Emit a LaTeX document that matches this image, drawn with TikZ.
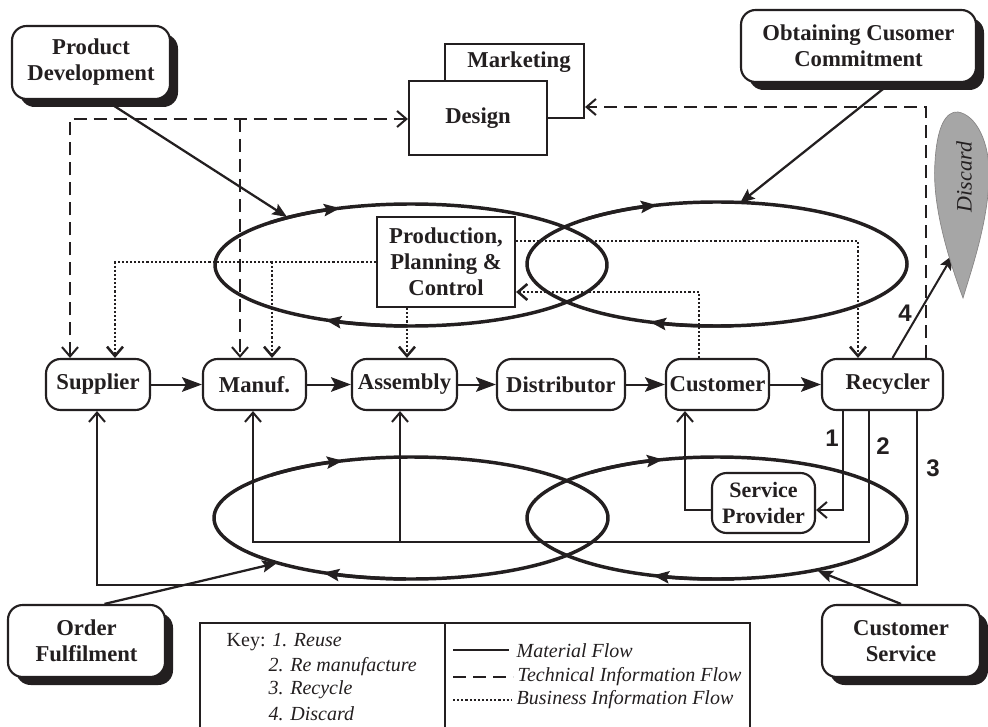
\documentclass[tikz,border=0pt]{standalone}
\usepackage{fontspec}
\setmainfont{Liberation Serif}
\newfontfamily\numfont{Liberation Sans}
\usetikzlibrary{arrows.meta,shadows,calc}
\definecolor{ink}{RGB}{35,31,32}
\definecolor{discardgray}{RGB}{166,166,166}
\pgfdeclarelayer{background}
\pgfsetlayers{background,main}
\newcommand\stagefont{\fontsize{17}{19.5}\selectfont\bfseries}
\newcommand\keyfont{\fontsize{15}{17}\selectfont}
\newcommand\markfont{\numfont\bfseries\fontsize{18}{20}\selectfont}
% arrow tip drawn on an elliptical cycle at parametric angle #5
\newcommand\cyclearrow[5]{%
  \draw[cycleline, -cyclehead] ({#1+#3*cos(#5-25)},{#2+#4*sin(#5-25)})
    arc[start angle=#5-25, end angle=#5, x radius=#3, y radius=#4];}
\tikzset{
  barb/.tip={Straight Barb[length=7pt,width=12pt]},
  rowhead/.tip={Stealth[length=15pt,width=11pt,inset=3pt]},
  linkhead/.tip={Stealth[length=11pt,width=9pt,inset=2pt]},
  cyclehead/.tip={Stealth[length=12pt,width=9pt,inset=2pt]},
}
\begin{document}
\begin{tikzpicture}[x=0.75pt,y=-0.75pt,
  every node/.style={text=ink},
  flowline/.style={draw=ink, line width=1.5pt},
  tech/.style={flowline, dash pattern=on 10pt off 5pt},
  biz/.style={draw=ink, line width=1.9pt, dash pattern=on 1.6pt off 1.5pt},
  cycleline/.style={draw=ink, line width=2.6pt},
  stage/.style={draw=ink, line width=1.6pt, rounded corners=11pt, fill=white,
    minimum height=38.25pt, inner sep=0pt, font=\stagefont, align=center},
  boxplain/.style={draw=ink, line width=1.6pt, fill=white, inner sep=0pt,
    font=\stagefont, align=center},
  procbox/.style={draw=ink, line width=1.6pt, fill=white, rounded corners=11pt,
    inner sep=0pt, align=center, font=\stagefont,
    drop shadow={shadow xshift=6pt, shadow yshift=-6pt, fill=ink, opacity=1}},
]
\useasboundingbox (0,0) rectangle (988,727);

% ---------- process boxes ----------
\node[procbox, minimum width=118.5pt, minimum height=54.75pt] (pd) at (91,62.5) {Product\\Development};
\node[procbox, minimum width=176.25pt, minimum height=54pt] (occ) at (858.5,46) {Obtaining Cusomer\\Commitment};
\node[procbox, minimum width=117.75pt, minimum height=54pt] (of) at (86.5,641) {Order\\Fulfilment};
\node[procbox, minimum width=118.5pt, minimum height=54pt] (cs) at (901,641) {Customer\\Service};

% ---------- marketing / design ----------
\node[boxplain, minimum width=104.25pt, minimum height=55.5pt] (marketing) at (514.5,81) {};
\node[font=\stagefont] (marketinglabel) at (519,62) {Marketing};
\node[boxplain, minimum width=103.5pt, minimum height=55.5pt] (design) at (478,118) {Design};

% ---------- planning ----------
\node[boxplain, minimum width=103.5pt, minimum height=67.5pt] (ppc) at (446,262) {Production,\\Planning \&\\Control};

% ---------- supply chain stages ----------
\node[stage, minimum width=78pt] (supplier) at (98,384.5) {Supplier};
\node[stage, minimum width=77.25pt] (manuf) at (254.5,384.5) {Manuf.};
\node[stage, minimum width=78.75pt] (assembly) at (404.5,384.5) {Assembly};
\node[stage, minimum width=96pt] (distributor) at (561,384.5) {Distributor};
\node[stage, minimum width=77.25pt] (customer) at (717.5,384.5) {Customer};
\node[stage, minimum width=90.75pt] (recycler) at (882.5,384.5) {\hspace*{8pt}Recycler};
\node[stage, minimum width=77.25pt, minimum height=45pt,
  font=\fontsize{16.5}{20}\selectfont\bfseries] (sp) at (763.5,503) {Service\\Provider};

% ---------- discard ----------
\fill[discardgray, draw=ink!55, line width=0.5pt]
  (963,298) .. controls (945,250) and (932,200) .. (935,162)
  .. controls (937,126) and (946,111) .. (958,112)
  .. controls (976,115) and (990,142) .. (989,177)
  .. controls (988,222) and (972,268) .. (963,298) -- cycle;
\node[rotate=90, font=\fontsize{16.5}{16.5}\selectfont\itshape] (discard) at (964,177) {Discard};

% ---------- route points ----------
\coordinate (tA) at (70,119);
\coordinate (tB) at (240,119);
\coordinate (tC) at (926,107);
\coordinate (bA) at (115,262);
\coordinate (bB) at (272,262);
\coordinate (bC) at (407,307);
\coordinate (bD) at (858,241);
\coordinate (bE) at (699,292);
\coordinate (r1) at (843,510);
\coordinate (r2) at (869,542);
\coordinate (r2m) at (253,542);
\coordinate (r2a) at (400,542);
\coordinate (r3) at (917,585);
\coordinate (r3s) at (97,585);
\coordinate (rc) at (685,510);
\coordinate (pdtip) at (287,217);
\coordinate (occtip) at (740,203);
\coordinate (oftip) at (277,563);
\coordinate (cstip) at (818,571);
\coordinate (disctip) at (953,255);

\begin{pgfonlayer}{background}
% process cycles
\draw[cycleline] (411,265) ellipse [x radius=196, y radius=61];
\draw[cycleline] (717,264) ellipse [x radius=190, y radius=62];
\draw[cycleline] (411,518) ellipse [x radius=197, y radius=61];
\draw[cycleline] (717,518) ellipse [x radius=190, y radius=61];
\cyclearrow{411}{265}{196}{61}{248.8}
\cyclearrow{411}{265}{196}{61}{116}
\cyclearrow{717}{264}{190}{62}{251.6}
\cyclearrow{717}{264}{190}{62}{110.7}
\cyclearrow{411}{518}{197}{61}{249.8}
\cyclearrow{411}{518}{197}{61}{116.5}
\cyclearrow{717}{518}{190}{61}{253.5}
\cyclearrow{717}{518}{190}{61}{109.7}

% process links into the cycles
\draw[flowline, line width=1.7pt, -linkhead] ($(pd.south)+(14,0)$) -- (pdtip);
\draw[flowline, line width=1.7pt, -linkhead] ($(occ.south)+(32,0)$) -- (occtip);
\draw[flowline, line width=1.7pt, -linkhead] ($(of.north)+(18,0)$) -- (oftip);
\draw[flowline, line width=1.7pt, -linkhead] (cs.north) -- (cstip);

% technical information flow
\draw[tech, barb-barb] (tA |- supplier.north) -- (tA) -- (tA -| design.west);
\draw[tech, -barb] (tB) -- (tB |- manuf.north);
\draw[tech, -barb] (tC |- recycler.north) -- (tC) -- (tC -| marketing.east);

% business information flow
\draw[biz, -barb] (ppc.west) -- (bA) -- (bA |- supplier.north);
\draw[biz, -barb] (bB) -- (bB |- manuf.north);
\draw[biz, -barb] (ppc.south -| bC) -- (bC |- assembly.north);
\draw[biz, -barb] (ppc.east |- bD) -- (bD) -- (bD |- recycler.north);
\draw[biz, -barb] (bE |- customer.north) -- (bE) -- (bE -| ppc.east);

% forward material flow
\draw[flowline, -rowhead] (supplier) -- (manuf);
\draw[flowline, -rowhead] (manuf) -- (assembly);
\draw[flowline, -rowhead] (assembly) -- (distributor);
\draw[flowline, -rowhead] (distributor) -- (customer);
\draw[flowline, -rowhead] (customer) -- (recycler);
\draw[flowline, -linkhead] ($(recycler.north)+(10,0)$) -- (disctip);

% return material flow
\draw[flowline, -barb] (r1 |- recycler.south) -- (r1) -- (r1 -| sp.east);
\draw[flowline, -barb] (r2 |- recycler.south) -- (r2) -- (r2m) -- (r2m |- manuf.south);
\draw[flowline, -barb] (r2a) -- (r2a |- assembly.south);
\draw[flowline, -barb] (r3 |- recycler.south) -- (r3) -- (r3s) -- (r3s |- supplier.south);
\draw[flowline, -barb] (sp.west |- rc) -- (rc) -- (rc |- customer.south);
\end{pgfonlayer}

% route numbers
\node[font=\markfont] (n1) at (832,438) {1};
\node[font=\markfont] (n2) at (883,446) {2};
\node[font=\markfont] (n3) at (933,468) {3};
\node[font=\markfont] (n4) at (905,313) {4};

% ---------- key ----------
\draw[ink, line width=1.3pt] (200,729) -- (200,623) -- (750,623) -- (750,729);
\draw[ink, line width=1.3pt] (445,623) -- (445,729);
\node[anchor=west, font=\keyfont] (k1) at (222,642) {Key: \itshape 1. Reuse};
\node[anchor=west, font=\keyfont\itshape] (k2) at (264,667) {2. Re manufacture};
\node[anchor=west, font=\keyfont\itshape] (k3) at (264,690) {3. Recycle};
\node[anchor=west, font=\keyfont\itshape] (k4) at (264,714) {4. Discard};
\draw[flowline] (453,650) -- (509,650);
\draw[tech] (453,677) -- (513,677);
\draw[biz] (453,700) -- (511,700);
\node[anchor=west, font=\keyfont\itshape] (l1) at (512,651) {Material Flow};
\node[anchor=west, font=\keyfont\itshape] (l2) at (513,677) {Technical Information Flow};
\node[anchor=west, font=\keyfont\itshape] (l3) at (512,700) {Business Information Flow};
\end{tikzpicture}
\end{document}
